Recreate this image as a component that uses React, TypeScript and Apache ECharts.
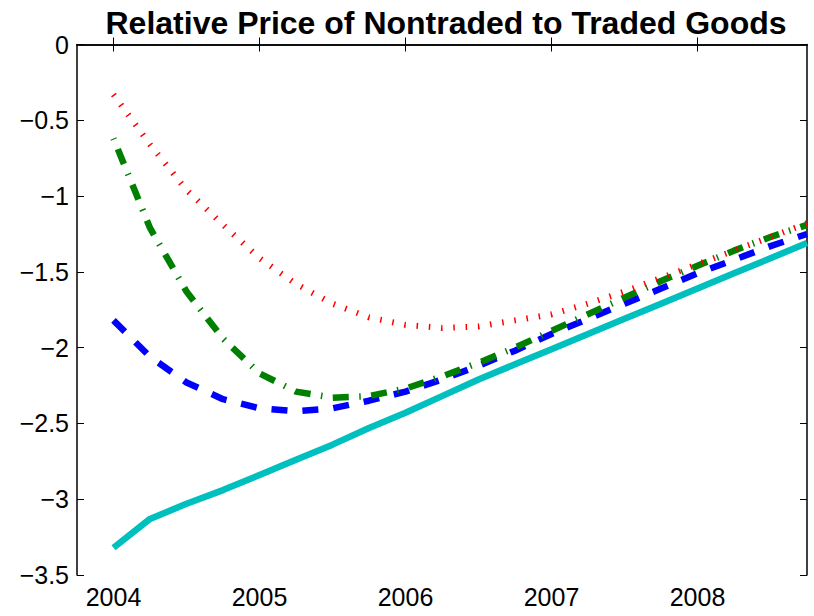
import React, { useEffect, useRef } from "react";
import * as echarts from "echarts";

const quarters = [
  2004, 2004.25, 2004.5, 2004.75, 2005, 2005.25, 2005.5, 2005.75, 2006, 2006.25,
  2006.5, 2006.75, 2007, 2007.25, 2007.5, 2007.75, 2008, 2008.25, 2008.5, 2008.75,
];
const cyanSolid = [
  -3.32, -3.13, -3.03, -2.94, -2.84, -2.74, -2.64, -2.53, -2.43, -2.32,
  -2.21, -2.11, -2.01, -1.91, -1.81, -1.71, -1.61, -1.51, -1.41, -1.31,
];
const blueDashed = [
  -1.82, -2.06, -2.23, -2.34, -2.4, -2.42, -2.4, -2.35, -2.29, -2.21,
  -2.12, -2.02, -1.91, -1.81, -1.71, -1.61, -1.51, -1.42, -1.33, -1.25,
];
const greenDashDot = [
  -0.62, -1.21, -1.63, -1.94, -2.17, -2.29, -2.33, -2.32, -2.27, -2.19,
  -2.1, -2.0, -1.89, -1.78, -1.67, -1.56, -1.46, -1.36, -1.27, -1.19,
];
const redDotted = [
  -0.33, -0.66, -0.96, -1.19, -1.41, -1.58, -1.71, -1.8, -1.85, -1.87,
  -1.86, -1.82, -1.78, -1.71, -1.63, -1.54, -1.45, -1.36, -1.27, -1.18,
];
const xTickValues = [2004, 2005, 2006, 2007, 2008];
const titleText = "Relative Price of Nontraded to Traded Goods";

const FONT = "'Liberation Sans', Arial, Helvetica, sans-serif";

const pairs = (ys: number[]) => quarters.map((x, i) => [x, ys[i]]);

export default function App() {
  const ref = useRef<HTMLDivElement>(null);
  useEffect(() => {
    if (!ref.current) return;
    const chart = echarts.init(ref.current, null, { renderer: "svg" });
    const axisLine = { show: true, lineStyle: { color: "#000", width: 1.5 } };
    const tick = { show: true, inside: true, length: 7, lineStyle: { color: "#000", width: 1 } };
    const fmtY = (v: number) => (v < 0 ? "\u2212" + String(Math.abs(v)) : String(v));
    chart.setOption({
      animation: false,
      backgroundColor: "#fff",
      title: {
        text: titleText,
        left: 441,
        top: 2,
        textAlign: "center",
        textStyle: { fontFamily: FONT, fontWeight: "bold", fontSize: 32, color: "#000" },
      },
      grid: { left: 77, right: 7, top: 44.5, bottom: 41, containLabel: false, outerBoundsMode: "none" },
      xAxis: [
        {
          type: "value",
          min: 2003.75,
          max: 2008.75,
          position: "bottom",
          axisLine,
          axisTick: { ...tick, customValues: xTickValues },
          axisLabel: {
            customValues: xTickValues,
            margin: 9,
            fontFamily: FONT,
            fontSize: 25,
            color: "#000",
            formatter: (v: number) => (Number.isInteger(v) ? String(v) : ""),
          },
          splitLine: { show: false },
        },
        {
          type: "value",
          min: 2003.75,
          max: 2008.75,
          position: "top",
          axisLine,
          axisTick: { ...tick, customValues: xTickValues },
          axisLabel: { show: false },
          splitLine: { show: false },
        },
      ],
      yAxis: [
        {
          type: "value",
          min: -3.5,
          max: 0,
          interval: 0.5,
          position: "left",
          axisLine,
          axisTick: tick,
          axisLabel: { margin: 8, fontFamily: FONT, fontSize: 25, color: "#000", formatter: fmtY },
          splitLine: { show: false },
        },
        {
          type: "value",
          min: -3.5,
          max: 0,
          interval: 0.5,
          position: "right",
          axisLine,
          axisTick: tick,
          axisLabel: { show: false },
          splitLine: { show: false },
        },
      ],
      series: [
        {
          type: "line",
          data: pairs(cyanSolid),
          symbol: "none",
          lineStyle: { color: "#00BFBF", width: 6.5, type: "solid", cap: "butt", join: "round" },
        },
        {
          type: "line",
          data: pairs(blueDashed),
          symbol: "none",
          lineStyle: { color: "#0000FF", width: 6.5, type: [16, 15], cap: "butt" },
        },
        {
          type: "line",
          data: pairs(greenDashDot),
          symbol: "none",
          lineStyle: {
            color: "#008000",
            width: 6.5,
            type: [16, 10.5, 1.5, 10.5],
            dashOffset: 26.5,
            cap: "butt",
          },
        },
        {
          type: "line",
          data: pairs(redDotted),
          symbol: "none",
          lineStyle: { color: "#FF0000", width: 6, type: [1.5, 10.8], cap: "butt" },
        },
      ],
    });
    return () => chart.dispose();
  }, []);
  return (
    <div
      ref={ref}
      style={{ position: "fixed", left: 0, top: 0, width: 814, height: 616, background: "#fff" }}
    />
  );
}
